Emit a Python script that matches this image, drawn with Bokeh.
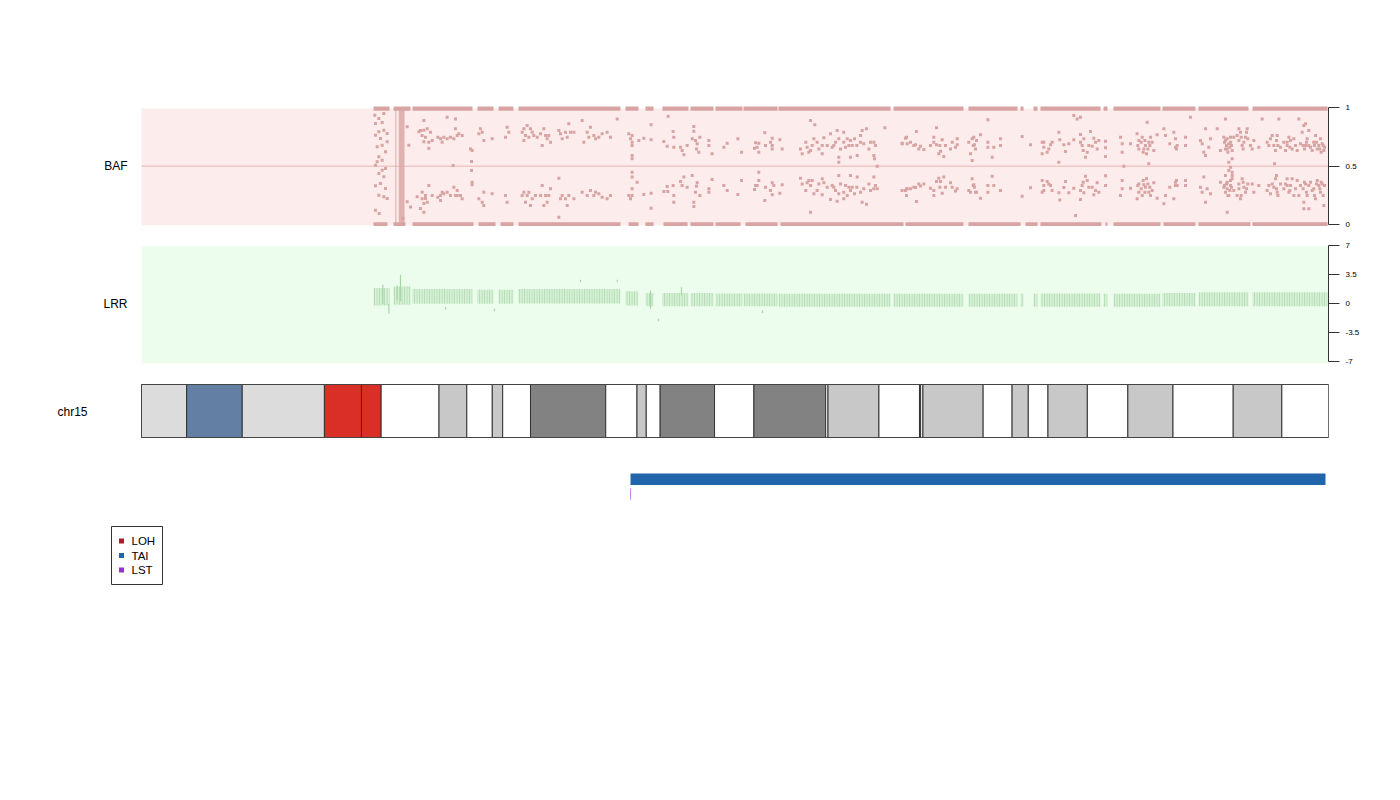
from bokeh.plotting import figure
from bokeh.models import Range1d, FixedTicker, ColumnDataSource
from bokeh.layouts import column
from bokeh.embed import file_html
from bokeh.resources import INLINE
from bokeh.core.properties import value

FONT = "Liberation Sans"
CHR_LEN = 102.531392  # chr15 length, Mb

# ---------------- ideogram (chr15 cytobands, Mb) ----------------
band_start = [0, 3.9, 8.7, 15.8, 19.0, 20.7, 25.7, 28.1, 30.3, 31.2, 33.6, 40.1, 42.8, 43.6,
              44.8, 49.5, 52.9, 59.1, 59.3, 63.7, 67.2, 67.3, 67.5, 72.7, 75.2, 76.6, 78.3,
              81.7, 85.2, 89.1, 94.3, 98.5]
band_end = band_start[1:] + [CHR_LEN]
band_stain = ["gvar", "stalk", "gvar", "acen", "acen", "gneg", "gpos50", "gneg", "gpos50", "gneg",
              "gpos75", "gneg", "gpos25", "gneg", "gpos75", "gneg", "gpos75", "gneg", "gpos25",
              "gneg", "gpos25", "gneg", "gpos25", "gneg", "gpos25", "gneg", "gpos50", "gneg",
              "gpos50", "gneg", "gpos50", "gneg"]

# ---------------- events (Mb) ----------------
loh_start, loh_end = [], []
tai_start, tai_end = [42.24], [102.27]
lst_pos = [42.24]
legend_labels = ["LOH", "TAI", "LST"]

# ---------------- BAF: homozygous bands (Mb ranges) ----------------
baf_top_start = [20.04, 21.77, 23.41, 29.02, 30.84, 32.56, 41.81, 43.53, 45.00, 47.42, 49.58, 52.00,
                 55.02, 64.96, 71.43, 75.93, 77.05, 77.65, 83.10, 83.96, 88.19, 91.30, 95.97]
baf_top_end = [21.42, 23.24, 28.59, 30.41, 32.13, 41.37, 42.93, 44.23, 47.25, 49.41, 51.91, 54.94,
               64.70, 71.00, 75.67, 76.19, 77.40, 82.84, 83.44, 88.02, 91.04, 95.62, 102.45]
baf_bot_start = [20.04, 21.77, 23.41, 29.11, 31.01, 32.56, 42.07, 43.53, 45.09, 47.42, 49.58, 52.17,
                 55.19, 65.99, 71.43, 76.36, 77.65, 83.27, 83.96, 88.28, 91.30, 95.97]
baf_bot_end = [21.25, 22.80, 28.68, 30.58, 32.13, 41.37, 42.93, 44.23, 47.17, 49.41, 51.74, 54.94,
               65.82, 71.00, 75.93, 77.40, 82.92, 83.44, 88.02, 91.04, 95.79, 102.45]
# dense vertical stripes of BAF probes (Mb ranges)
baf_dense_start = [21.92, 22.22]
baf_dense_end = [22.02, 22.72]

# ---------------- BAF: individual probes (Mb, BAF) ----------------
baf_col = [(20.15, .937), (20.50, .908), (20.93, .951), (20.21, .865), (20.79, .874), (20.50, .794),
           (20.93, .808), (20.21, .765), (20.64, .737), (21.22, .780), (20.36, .666), (20.79, .680),
           (21.08, .623), (20.50, .580), (20.79, .551), (20.21, .508), (21.08, .480), (20.50, .437),
           (20.93, .409), (20.21, .332), (20.64, .351), (21.08, .308), (20.50, .251), (20.93, .237),
           (20.21, .123), (20.53, .094), (21.22, .223), (20.36, .537), (20.79, .465), (21.22, .709),
           (22.95, .837), (23.96, .794), (24.39, .808), (23.09, .680), (24.39, .709), (22.95, .194),
           (23.24, .151), (23.81, .237), (24.39, .180), (24.53, .223), (24.10, .137), (22.60, .051),
           (26.92, .506), (28.51, .540), (28.51, .463), (28.56, .363), (28.56, .340),
           (79.24, .534), (84.85, .500), (87.01, .520), (93.92, .534), (94.07, .491), (94.21, .448),
           (93.92, .463), (97.87, .520), (98.04, .420), (63.55, .500)]

baf_upper = [(24.39, .891), (24.10, .805), (24.68, .820), (24.96, .791), (24.53, .748), (24.82, .705),
             (24.82, .654), (25.83, .734), (26.11, .748), (26.40, .734), (26.98, .734), (27.12, .820),
             (27.12, .905), (27.41, .777), (27.70, .763), (26.40, .920), (28.42, .648), (28.56, .634),
             (29.28, .820), (29.14, .777), (29.43, .791), (30.29, .734), (29.57, .720), (31.58, .834),
             (31.44, .748), (31.73, .791), (33.03, .820), (33.31, .848), (33.17, .763), (33.03, .720),
             (33.60, .820), (33.89, .763), (34.18, .748), (34.75, .820), (34.90, .763), (35.04, .734),
             (34.61, .677), (35.33, .705), (36.05, .805), (36.19, .777), (36.91, .863), (37.06, .791),
             (36.77, .748), (37.35, .791), (38.06, .891), (38.21, .705), (38.78, .834), (38.64, .748),
             (39.07, .763), (39.50, .748), (40.22, .791), (40.51, .748), (41.09, .905), (42.09, .777),
             (42.24, .734), (42.38, .677), (42.96, .720),
             (24.24, .763), (25.11, .720), (25.60, .748), (25.97, .705), (26.69, .748), (27.27, .763),
             (32.88, .791), (33.46, .748), (33.75, .791), (34.47, .777), (35.18, .763), (36.34, .734),
             (36.62, .791), (38.50, .791), (39.22, .734), (39.79, .777),
             (42.38, .763), (42.38, .705), (42.38, .591), (42.38, .563), (43.39, .740), (44.02, .854),
             (44.02, .726), (45.12, .711), (45.41, .671), (45.49, .928), (45.92, .797), (45.98, .748),
             (45.98, .663), (46.56, .663), (46.70, .634), (46.85, .597), (47.57, .734), (47.71, .840),
             (47.71, .800), (48.00, .691), (47.94, .648), (48.23, .748), (48.14, .620), (49.01, .720),
             (49.01, .677), (49.29, .606), (50.30, .663), (50.59, .697), (51.51, .734), (51.83, .620),
             (53.04, .700), (52.95, .654), (53.32, .697), (53.32, .620), (53.84, .786), (53.90, .677),
             (54.48, .740), (54.48, .677), (54.48, .648), (55.14, .726), (55.34, .648), (56.92, .648),
             (57.07, .606), (57.50, .663), (57.79, .634), (57.93, .677), (58.08, .734), (57.79, .891),
             (58.16, .854), (58.36, .705), (58.80, .677), (58.80, .606), (58.94, .743), (59.51, .777),
             (59.66, .663), (59.80, .677), (60.09, .805), (60.23, .734), (60.23, .577), (60.23, .534),
             (60.66, .791), (60.66, .705), (60.81, .663), (60.96, .734), (61.24, .720), (61.39, .677),
             (61.24, .577), (61.82, .591), (62.11, .763), (62.11, .705), (62.25, .805), (62.39, .691),
             (62.62, .820), (62.83, .648), (63.26, .705), (63.26, .591), (63.32, .563), (64.21, .828),
             (65.71, .691), (66.08, .748),
             (57.38, .705), (57.64, .620), (58.51, .648), (59.23, .677), (59.95, .705), (60.38, .648),
             (61.10, .677), (61.59, .734), (61.79, .677), (62.97, .705), (63.40, .677), (47.13, .677),
             (47.85, .720), (53.18, .663), (54.33, .705),
             (65.99, .740), (65.70, .697), (66.42, .705), (66.86, .683), (66.94, .797), (67.29, .671),
             (67.58, .643), (68.15, .677), (68.44, .748), (68.67, .828), (68.67, .683), (68.87, .606),
             (69.02, .628), (69.16, .726), (69.30, .583), (69.88, .648), (70.03, .705), (70.46, .734),
             (70.46, .683), (70.31, .663), (71.75, .734), (71.89, .748), (71.95, .683), (72.04, .648),
             (71.61, .606), (71.75, .548), (72.47, .768), (73.11, .705), (73.11, .663), (73.48, .577),
             (73.62, .663), (74.20, .734), (74.20, .677), (73.11, .897), (76.07, .754), (76.79, .683),
             (77.80, .705), (77.94, .663), (78.23, .620), (77.80, .606), (78.52, .683), (79.24, .791),
             (79.32, .726), (79.67, .683), (79.81, .626), (80.10, .691), (80.53, .726), (81.11, .771),
             (81.25, .677), (81.40, .734), (81.54, .577), (81.69, .620), (81.97, .797), (82.12, .671),
             (82.26, .740), (82.55, .648), (83.27, .714), (83.27, .657), (83.27, .583), (84.56, .748),
             (84.71, .691), (84.71, .620), (85.43, .691), (86.00, .777), (86.15, .720), (86.15, .648),
             (86.44, .748), (86.58, .648), (86.72, .677), (86.81, .606), (86.87, .877), (87.01, .705),
             (87.16, .748), (87.44, .634), (87.73, .768), (88.31, .820), (88.45, .763), (88.82, .691),
             (89.17, .791), (89.40, .648), (89.46, .677), (80.53, .934), (81.11, .920), (80.82, .905),
             (86.06, .677), (86.35, .705), (86.52, .620), (86.67, .720), (86.93, .648), (87.10, .677),
             (87.30, .705), (81.11, .705), (81.34, .634), (81.83, .677), (82.41, .705), (82.69, .720),
             (77.94, .705), (78.37, .648), (78.66, .705), (71.46, .705), (71.84, .677), (72.13, .720),
             (68.44, .705), (68.96, .677), (69.45, .677), (66.71, .677), (67.14, .648), (66.14, .691),
             (89.31, .734), (89.31, .663), (90.18, .748), (90.18, .677), (90.61, .920), (91.47, .720),
             (91.62, .691), (91.76, .620), (91.91, .820), (91.91, .591), (92.19, .663), (92.34, .734),
             (92.92, .820), (93.20, .634), (93.49, .748), (93.63, .720), (93.72, .677), (93.78, .648),
             (93.92, .691), (94.07, .705), (94.21, .634), (94.21, .563), (93.63, .905), (94.35, .748),
             (94.64, .763), (94.79, .720), (94.93, .791), (95.07, .677), (95.22, .705), (95.51, .820),
             (95.36, .748), (95.94, .648), (96.08, .720), (96.51, .663), (96.80, .905), (97.23, .705),
             (97.38, .677), (97.52, .734), (97.81, .677), (97.95, .634), (98.10, .763), (98.24, .905),
             (98.39, .663), (98.67, .705), (98.82, .634), (98.96, .677), (99.11, .748), (99.25, .720),
             (99.39, .648), (99.68, .677), (99.83, .634), (99.97, .905), (100.11, .691), (100.26, .791),
             (100.40, .848), (100.55, .677), (100.69, .734), (100.83, .805), (100.98, .663),
             (101.26, .705), (101.41, .763), (101.56, .648), (101.70, .677), (101.84, .734),
             (101.99, .691), (102.13, .634), (100.55, .863),
             (93.55, .705), (93.78, .734), (94.01, .663), (94.15, .677), (93.63, .648), (93.84, .620),
             (94.07, .748), (94.79, .820), (94.99, .748), (95.16, .648), (95.45, .791), (95.56, .734),
             (95.79, .677), (97.67, .763), (98.04, .720), (98.16, .677), (98.96, .705), (99.19, .663),
             (99.54, .734), (100.34, .677), (100.46, .648), (100.63, .705), (100.83, .677),
             (101.12, .634), (101.32, .677), (101.50, .705), (101.78, .648), (101.90, .620),
             (102.07, .677), (102.19, .663)]

baf_lower = [(24.82, .334), (24.53, .248), (24.24, .220), (24.68, .191), (24.39, .106), (25.83, .248),
             (26.11, .263), (26.40, .277), (25.83, .206), (26.98, .320), (27.27, .291), (27.12, .248),
             (27.55, .248), (27.70, .220), (29.14, .220), (29.43, .191), (29.57, .163), (29.57, .277),
             (30.29, .263), (31.44, .248), (31.58, .191), (33.03, .277), (33.31, .248), (33.17, .191),
             (33.60, .163), (34.03, .248), (34.61, .334), (34.90, .248), (35.04, .191), (35.33, .306),
             (34.75, .163), (36.05, .397), (36.19, .220), (36.91, .248), (36.77, .163), (37.35, .220),
             (38.06, .277), (38.78, .291), (39.07, .248), (39.50, .263), (40.22, .220), (40.51, .248),
             (36.05, .063), (42.09, .248), (42.24, .220), (42.81, .363),
             (24.24, .277), (25.11, .248), (25.60, .234), (25.97, .277), (26.69, .248), (27.27, .248),
             (32.88, .248), (33.46, .277), (33.75, .220), (34.47, .248), (35.18, .248), (36.34, .248),
             (36.62, .220), (38.50, .248), (39.22, .277), (39.79, .234),
             (42.38, .448), (42.38, .406), (42.38, .306), (42.38, .248), (43.39, .257), (44.02, .268),
             (44.02, .140), (45.12, .283), (45.41, .326), (45.46, .283), (45.92, .334), (45.98, .248),
             (45.98, .191), (46.56, .368), (46.70, .334), (46.85, .406), (47.57, .420), (47.71, .191),
             (47.71, .154), (48.00, .357), (47.94, .328), (48.23, .248), (49.01, .306), (49.01, .277),
             (49.29, .386), (50.30, .334), (50.59, .291), (51.51, .257), (51.83, .377), (53.04, .334),
             (52.95, .300), (53.32, .377), (53.32, .448), (53.84, .206), (53.90, .320), (54.48, .357),
             (54.48, .254), (54.62, .334), (55.14, .268), (55.34, .340), (56.92, .397), (57.07, .348),
             (57.50, .357), (57.79, .334), (57.93, .377), (58.08, .263), (57.79, .106), (58.36, .291),
             (58.80, .391), (58.80, .254), (58.94, .357), (59.51, .214), (59.66, .334), (59.80, .320),
             (60.09, .200), (60.23, .263), (60.23, .420), (60.66, .277), (60.66, .220), (60.81, .334),
             (60.96, .248), (61.24, .291), (61.39, .320), (61.24, .420), (61.82, .406), (62.11, .277),
             (62.25, .191), (62.39, .306), (62.62, .174), (62.83, .348), (63.26, .306), (63.26, .406),
             (63.55, .306), (66.08, .306), (66.08, .248),
             (57.38, .291), (57.64, .377), (58.51, .348), (59.23, .320), (59.95, .291), (60.38, .348),
             (61.10, .320), (61.59, .263), (61.79, .320), (62.97, .291), (63.40, .334), (47.13, .320),
             (47.85, .277), (53.18, .334), (54.33, .291),
             (65.99, .291), (65.70, .291), (66.42, .306), (66.86, .317), (66.94, .197), (67.29, .329),
             (67.58, .348), (68.15, .311), (68.44, .248), (68.67, .368), (68.87, .397), (69.02, .368),
             (69.16, .268), (69.30, .406), (69.88, .357), (70.03, .320), (70.46, .306), (70.31, .286),
             (71.75, .391), (71.89, .340), (71.95, .320), (72.04, .277), (71.61, .277), (72.47, .226),
             (73.11, .334), (73.11, .277), (73.48, .414), (73.62, .334), (74.20, .291), (76.07, .243),
             (76.79, .314), (77.80, .377), (77.94, .334), (78.23, .368), (77.80, .277), (78.52, .334),
             (79.24, .271), (79.32, .211), (79.67, .317), (79.81, .368), (80.10, .271), (80.53, .311),
             (81.11, .214), (81.25, .334), (81.40, .271), (81.54, .414), (81.69, .377), (82.12, .320),
             (82.26, .254), (82.55, .357), (83.27, .417), (83.27, .334), (84.56, .248), (84.71, .306),
             (84.71, .377), (85.43, .311), (86.00, .220), (86.15, .277), (86.15, .348), (86.44, .248),
             (86.58, .340), (86.72, .320), (86.81, .391), (87.01, .277), (87.16, .248), (87.44, .357),
             (87.73, .226), (88.31, .177), (88.45, .248), (88.82, .320), (89.17, .220), (89.40, .377),
             (89.46, .334), (80.68, .077),
             (86.06, .334), (86.35, .306), (86.52, .377), (86.67, .277), (86.93, .348), (87.10, .320),
             (87.30, .291), (81.11, .291), (81.34, .363), (81.83, .320), (82.41, .291), (82.69, .277),
             (77.94, .291), (78.37, .348), (78.66, .291), (71.46, .291), (71.84, .334), (72.13, .277),
             (68.44, .291), (68.96, .320), (69.45, .320), (66.71, .320), (67.14, .348), (66.14, .306),
             (89.31, .363), (89.31, .334), (90.18, .377), (90.18, .334), (91.47, .320), (91.62, .277),
             (91.76, .406), (91.91, .191), (92.05, .306), (92.34, .263), (93.20, .363), (93.49, .320),
             (93.63, .420), (93.72, .348), (93.78, .306), (93.92, .248), (94.07, .334), (94.21, .420),
             (94.21, .391), (94.35, .291), (94.64, .248), (94.79, .348), (94.93, .220), (95.07, .391),
             (95.22, .320), (95.36, .277), (93.78, .106), (95.94, .348), (96.08, .277), (96.51, .334),
             (97.23, .291), (97.38, .334), (97.52, .263), (97.81, .320), (97.95, .391), (98.10, .277),
             (98.39, .348), (98.67, .306), (98.82, .348), (98.96, .391), (99.11, .277), (99.25, .334),
             (99.39, .391), (99.68, .306), (99.83, .377), (99.97, .248), (100.11, .334), (100.40, .191),
             (100.55, .348), (100.69, .248), (100.83, .134), (100.98, .363), (101.26, .306),
             (101.41, .220), (101.56, .377), (101.70, .334), (101.84, .277), (101.99, .348),
             (102.13, .163), (100.40, .134),
             (93.55, .334), (93.78, .363), (94.01, .291), (94.15, .320), (93.63, .277), (93.84, .248),
             (94.07, .377), (94.79, .306), (94.99, .248), (95.16, .363), (95.45, .306), (95.56, .348),
             (97.67, .348), (98.04, .306), (98.16, .248), (98.96, .334), (99.19, .291), (99.54, .248),
             (100.34, .306), (100.46, .363), (100.63, .277), (100.83, .334), (101.12, .291),
             (101.32, .248), (101.50, .348), (101.78, .306), (101.90, .363), (102.07, .248),
             (102.19, .334)]

# ---------------- LRR: probe bands (Mb ranges with lower / upper LRR) ----------------
lrr_start = [20.04, 21.77, 23.41, 29.02, 30.84, 32.56, 41.81, 43.53, 45.00, 47.42, 49.58, 52.00,
             55.02, 64.96, 71.43, 75.93, 77.05, 77.65, 83.10, 83.96, 88.19, 91.30, 95.97]
lrr_end = [21.42, 23.24, 28.59, 30.41, 32.13, 41.37, 42.93, 44.23, 47.25, 49.41, 51.91, 54.94,
           64.70, 71.00, 75.67, 76.19, 77.40, 82.84, 83.44, 88.02, 91.04, 95.62, 102.45]
lrr_lo = [-0.2, -0.1, 0.0, 0.0, 0.0, 0.05, -0.2, -0.3, -0.3, -0.3, -0.3, -0.3, -0.35, -0.35,
          -0.35, -0.35, -0.35, -0.35, -0.35, -0.35, -0.3, -0.3, -0.3]
lrr_hi = [1.9, 2.1, 1.8, 1.7, 1.7, 1.8, 1.5, 1.3, 1.3, 1.3, 1.25, 1.25, 1.2, 1.2, 1.2, 1.2, 1.2,
          1.25, 1.2, 1.2, 1.3, 1.4, 1.4]
# LRR outlier probes (Mb, lower, upper)
lrr_spike_pos = [20.85, 21.37, 22.08, 22.37, 26.26, 30.49, 37.92, 41.09, 43.97, 44.66, 46.64, 53.64]
lrr_spike_lo = [0.0, -1.2, 0.4, 0.3, -0.7, -0.9, 2.6, 2.6, -0.6, -2.1, 1.0, -1.1]
lrr_spike_hi = [2.3, 0.0, 2.2, 3.5, -0.4, -0.6, 2.9, 2.9, 1.6, -1.8, 2.0, -0.8]

# ---------------- styles ----------------
stain_color = {"gneg": "#FFFFFF", "gpos25": "#C8C8C8", "gpos50": "#C8C8C8", "gpos75": "#828282",
               "gvar": "#DCDCDC", "stalk": "#647FA4", "acen": "#D92F27"}
legend_colors = ["#B2182B", "#2166AC", "#9932CC"]
BAF_BG, BAF_PT, BAF_MID = "#FDECEC", "#D8A3A3", "#F0C6C6"
LRR_BG, LRR_PT = "#EDFDED", "#A6D6A6"

X0 = -141 * CHR_LEN / 1187.0


def make_fig(height, top, bottom, y_range, right_axis=True):
    p = figure(width=1400, height=height, title=None,
               x_range=Range1d(X0, CHR_LEN), y_range=y_range,
               output_backend="svg", toolbar_location=None,
               x_axis_location=None, y_axis_location="right" if right_axis else None,
               min_border_left=0, min_border_right=72, min_border_top=top, min_border_bottom=bottom)
    p.outline_line_color = None
    p.xgrid.visible = False
    p.ygrid.visible = False
    p.background_fill_color = "white"
    p.border_fill_color = "white"
    p.extra_x_ranges = {"px": Range1d(0, 1328)}
    return p


def style_axis(ax, ticks, labels, bounds):
    ax.ticker = FixedTicker(ticks=ticks)
    ax.major_label_overrides = dict(zip(ticks, labels))
    ax.bounds = bounds
    ax.major_tick_out = 11
    ax.major_tick_in = 0
    ax.minor_tick_out = 0
    ax.minor_tick_in = 0
    ax.axis_line_color = "#333333"
    ax.major_tick_line_color = "#333333"
    ax.major_label_standoff = 6
    ax.major_label_text_font = FONT
    ax.major_label_text_font_size = "8px"
    ax.major_label_text_color = "black"


# ================= BAF panel =================
pA = make_fig(235, 100, 3, Range1d((224 - 232) / 116.7, (224 - 100) / 116.7))
pA.quad(left=[0], right=[CHR_LEN], bottom=[-0.006], top=[0.994], fill_color=BAF_BG, line_color=None)
pA.segment(x0=[0], x1=[CHR_LEN], y0=[0.5], y1=[0.5], line_color=BAF_MID, line_width=1.5)
pA.quad(left=baf_top_start, right=baf_top_end, bottom=0.975, top=1.012,
        fill_color=BAF_PT, line_color=None)
pA.quad(left=baf_bot_start, right=baf_bot_end, bottom=-0.012, top=0.02,
        fill_color=BAF_PT, line_color=None)
pA.quad(left=baf_dense_start, right=baf_dense_end, bottom=0.0, top=1.0,
        fill_color=BAF_PT, fill_alpha=0.8, line_color=None)
pts = baf_col + baf_upper + baf_lower
pA.scatter(x=[a for a, b in pts], y=[b for a, b in pts], marker="square", size=3,
           fill_color=BAF_PT, line_color=None)
style_axis(pA.yaxis[0], [0, 0.5, 1], ["0", "0.5", "1"], (0, 1))
pA.text(x=[127], y=[0.5], text=["BAF"], x_range_name="px", text_align="right",
        text_baseline="middle", text_font=value(FONT), text_font_size="12px", text_color="black")

# ================= LRR panel =================
s = 116.0 / 14.0
pB = make_fig(137, 5, 5, Range1d((303.3 - 367) / s, (303.3 - 240) / s))
pB.quad(left=[0], right=[CHR_LEN], bottom=[-7.2], top=[6.95], fill_color=LRR_BG, line_color=None)
pB.quad(left=lrr_start, right=lrr_end, bottom=lrr_lo, top=lrr_hi,
        fill_color=LRR_PT, fill_alpha=0.3, line_color=None,
        hatch_pattern="|", hatch_color=LRR_PT, hatch_scale=2.5, hatch_weight=1.0, hatch_alpha=0.8)
pB.segment(x0=lrr_spike_pos, x1=lrr_spike_pos, y0=lrr_spike_lo, y1=lrr_spike_hi,
           line_color=LRR_PT, line_width=1.2)
style_axis(pB.yaxis[0], [-7, -3.5, 0, 3.5, 7], ["-7", "-3.5", "0", "3.5", "7"], (-7, 7))
pB.text(x=[127], y=[0], text=["LRR"], x_range_name="px", text_align="right",
        text_baseline="middle", text_font=value(FONT), text_font_size="12px", text_color="black")

# ================= ideogram + events + legend =================
pC = make_fig(428, 0, 0, Range1d(800, 372), right_axis=False)
src = ColumnDataSource(dict(left=band_start, right=band_end,
                            color=[stain_color[st] for st in band_stain]))
pC.quad(left="left", right="right", bottom=437, top=384, fill_color="color",
        line_color="#333333", line_width=1, source=src)
pC.quad(left=[0], right=[CHR_LEN], bottom=437, top=384, fill_color=None,
        line_color="#444444", line_width=1)
pC.text(x=[87], y=[411], text=["chr15"], x_range_name="px", text_align="right",
        text_baseline="middle", text_font=value(FONT), text_font_size="12px", text_color="black")
pC.quad(left=loh_start, right=loh_end, bottom=470, top=459, fill_color=legend_colors[0], line_color=None)
pC.quad(left=tai_start, right=tai_end, bottom=484.5, top=473, fill_color=legend_colors[1],
        line_color=None)
pC.segment(x0=lst_pos, x1=lst_pos, y0=[488], y1=[499], line_color=legend_colors[2],
           line_width=1, line_alpha=0.6)

# legend
pC.quad(left=[111], right=[162], top=[526], bottom=[584], x_range_name="px",
        fill_color="white", line_color="#333333", line_width=1)
ly = [540.5, 555, 569.5]
pC.scatter(x=[121] * 3, y=ly, marker="square", size=5, x_range_name="px",
           fill_color=legend_colors, line_color=None)
pC.text(x=[131] * 3, y=ly, text=legend_labels, x_range_name="px", text_align="left",
        text_baseline="middle", text_font=value(FONT), text_font_size="11.5px", text_color="black")

layout = column(pA, pB, pC, spacing=0)
open("out.html", "w").write(file_html(layout, INLINE))
